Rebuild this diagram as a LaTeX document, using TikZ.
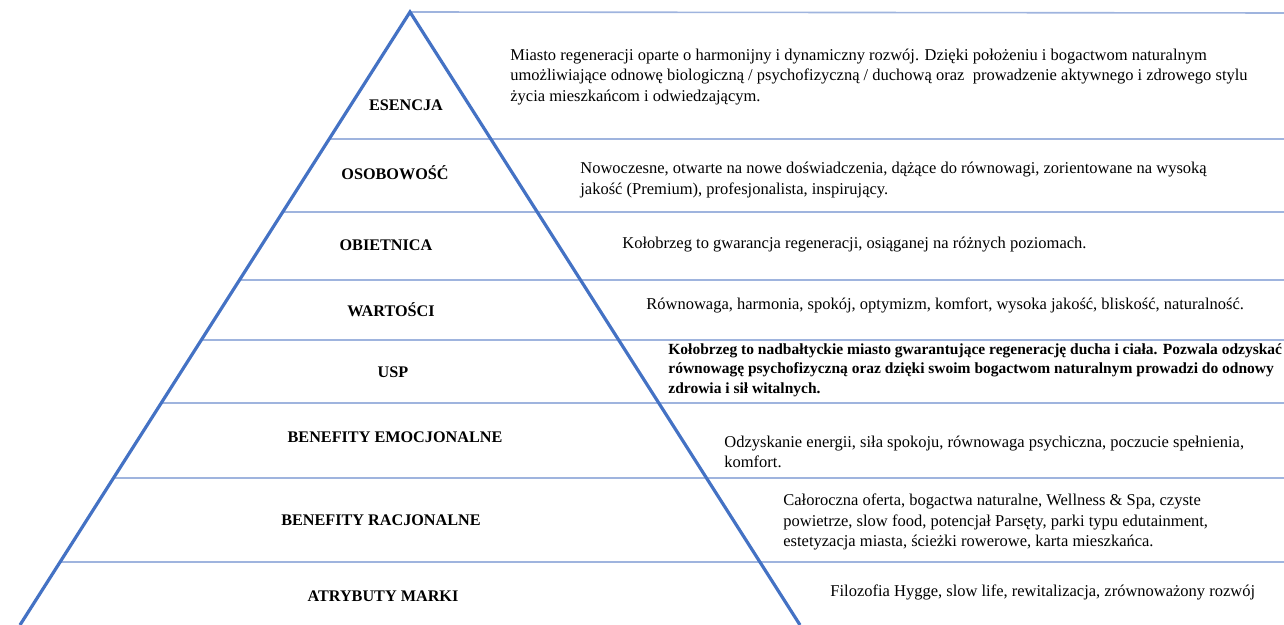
\documentclass[tikz,border=0pt]{standalone}
\usepackage{fontspec}
\setmainfont{Liberation Serif}
\usetikzlibrary{calc}
\definecolor{edgeblue}{HTML}{4472C4}
\definecolor{rowblue}{HTML}{9FB4DE}

\begin{document}
\begin{tikzpicture}[x=0.5pt, y=-0.5pt,
  tier/.style={font=\fontsize{8.1}{10}\selectfont\bfseries, inner sep=0pt},
  desc/.style={font=\fontsize{8.25}{10.25}\selectfont, align=left, anchor=west, inner sep=0pt},
  rowline/.style={draw=rowblue, line width=0.8pt},
  edge/.style={draw=edgeblue, line width=1.6pt}]
\useasboundingbox (0,0) rectangle (1284,625);
\coordinate (apex) at (410,12);
\coordinate (bl) at (20,625);
\coordinate (br) at (800,625);

% rows
\draw [rowline] (apex) -- (1284,13);
\foreach \y in {139,212,280,340,403,478,562}
  \draw [rowline] ($(apex)!{(\y-12)/613}!(bl)$) -- (1284,\y);

% pyramid
\draw [edge] (bl) -- (apex) -- (br);

% labels
\node [tier] (esencja) at (406,105) {ESENCJA};
\node [tier] (osobowosc) at (395,173) {OSOBOWOŚĆ};
\node [tier] (obietnica) at (386,245) {OBIETNICA};
\node [tier] (wartosci) at (391,310) {WARTOŚCI};
\node [tier] (usp) at (393,372) {USP};
\node [tier] (emocjonalne) at (395,437) {BENEFITY EMOCJONALNE};
\node [tier] (racjonalne) at (381,520) {BENEFITY RACJONALNE};
\node [tier] (atrybuty) at (383,596) {ATRYBUTY MARKI};

% descriptions
\node [desc] (esencja_t) at (510,77) {Miasto regeneracji oparte o harmonijny i dynamiczny rozwój. Dzięki położeniu i bogactwom naturalnym\\
umożliwiające odnowę biologiczną / psychofizyczną / duchową oraz\ \ prowadzenie aktywnego i zdrowego stylu\\
życia mieszkańcom i odwiedzającym.};
\node [desc] (osobowosc_t) at (580,180) {Nowoczesne, otwarte na nowe doświadczenia, dążące do równowagi, zorientowane na wysoką\\
jakość (Premium), profesjonalista, inspirujący.};
\node [desc] (obietnica_t) at (622,245) {Kołobrzeg to gwarancja regeneracji, osiąganej na różnych poziomach.};
\node [desc] (wartosci_t) at (646,305) {Równowaga, harmonia, spokój, optymizm, komfort, wysoka jakość, bliskość, naturalność.};
\node [desc, font=\fontsize{7.75}{9.8}\selectfont\bfseries] (usp_t) at (668,370) {Kołobrzeg to nadbałtyckie miasto gwarantujące regenerację ducha i ciała. Pozwala odzyskać\\
równowagę psychofizyczną oraz dzięki swoim bogactwom naturalnym prowadzi do odnowy\\
zdrowia i sił witalnych.};
\node [desc] (emocjonalne_t) at (724,452) {Odzyskanie energii, siła spokoju, równowaga psychiczna, poczucie spełnienia,\\
komfort.};
\node [desc] (racjonalne_t) at (783,522) {Całoroczna oferta, bogactwa naturalne, Wellness \& Spa, czyste\\
powietrze, slow food, potencjał Parsęty, parki typu edutainment,\\
estetyzacja miasta, ścieżki rowerowe, karta mieszkańca.};
\node [desc] (atrybuty_t) at (830,592) {Filozofia Hygge, slow life, rewitalizacja, zrównoważony rozwój};
\end{tikzpicture}
\end{document}
